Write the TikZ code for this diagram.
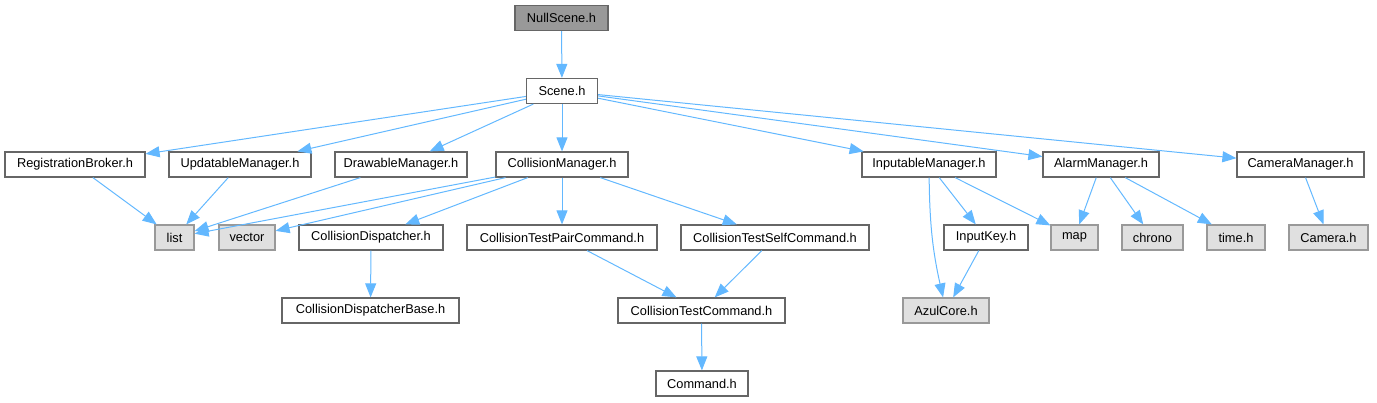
\documentclass[tikz,border=0pt]{standalone}
\usepackage{fontspec}
\setmainfont{Liberation Sans}
\usepackage{tikz}
\usetikzlibrary{arrows.meta, positioning}

\definecolor{edgeblue}{HTML}{63B8FF}
\definecolor{boxline}{HTML}{666666}
\definecolor{extline}{HTML}{999999}
\definecolor{extfill}{HTML}{E0E0E0}

\begin{document}
\begin{tikzpicture}[x=1pt, y=-1pt,
        hdr/.style={draw=boxline, line width=1.2pt, fill=white, minimum height=25pt, inner sep=0pt,
                    font=\fontsize{12.8pt}{14pt}\selectfont},
        ext/.style={hdr, draw=extline, fill=extfill},
        top/.style={hdr, fill=extline},
        dep/.style={edgeblue, line width=1pt, -{Triangle[length=14pt, width=11pt]}}]
            \useasboundingbox (0,0) rectangle (1377,403);
            % rows of the include graph
            \node[top, minimum width=93pt] (null) at (561.5,18) {NullScene.h};
            \node[hdr, minimum width=71pt] (scene) at (562,91) {Scene.h};
            \node[hdr, minimum width=140pt] (reg) at (75,164.5) {RegistrationBroker.h};
            \node[hdr, minimum width=142pt] (upd) at (240,164.5) {UpdatableManager.h};
            \node[hdr, minimum width=132pt] (drw) at (401,164.5) {DrawableManager.h};
            \node[hdr, minimum width=132pt] (col) at (562,164.5) {CollisionManager.h};
            \node[hdr, minimum width=134pt] (inp) at (929,164.5) {InputableManager.h};
            \node[hdr, minimum width=116pt] (alarm) at (1101,164.5) {AlarmManager.h};
            \node[hdr, minimum width=127pt] (cam) at (1300.5,164.5) {CameraManager.h};
            \node[ext, minimum width=39pt] (list) at (174.5,237.5) {list};
            \node[ext, minimum width=56pt] (vector) at (247,237.5) {vector};
            \node[hdr, minimum width=144pt] (cdisp) at (371,237.5) {CollisionDispatcher.h};
            \node[hdr, minimum width=190pt] (pair) at (562,237.5) {CollisionTestPairCommand.h};
            \node[hdr, minimum width=188pt] (self) at (775,237.5) {CollisionTestSelfCommand.h};
            \node[hdr, minimum width=84pt] (ikey) at (986,237.5) {InputKey.h};
            \node[ext, minimum width=47pt] (map) at (1074.5,237.5) {map};
            \node[ext, minimum width=61pt] (chrono) at (1152.5,237.5) {chrono};
            \node[ext, minimum width=58pt] (time) at (1236,237.5) {time.h};
            \node[ext, minimum width=79pt] (camh) at (1328.5,237.5) {Camera.h};
            \node[hdr, minimum width=177pt] (cdbase) at (370.5,310.5) {CollisionDispatcherBase.h};
            \node[hdr, minimum width=167pt] (ctc) at (701.5,310.5) {CollisionTestCommand.h};
            \node[ext, minimum width=86pt] (azul) at (946,310.5) {AzulCore.h};
            \node[hdr, minimum width=92pt] (cmd) at (702,383.5) {Command.h};
            % includes
            \draw[dep] (null) -- (scene);
            \draw[dep] (scene) -- (reg);
            \draw[dep] (scene) -- (upd);
            \draw[dep] (scene) -- (drw);
            \draw[dep] (scene) -- (col);
            \draw[dep] (scene) -- (inp);
            \draw[dep] (scene) -- (alarm);
            \draw[dep] (scene) -- (cam);
            \draw[dep] (reg) -- (list);
            \draw[dep] (upd) -- (list);
            \draw[dep] (drw) -- (list);
            \draw[dep] (col) -- (list);
            \draw[dep] (col) -- (vector);
            \draw[dep] (col) -- (cdisp);
            \draw[dep] (col) -- (pair);
            \draw[dep] (col) -- (self);
            \draw[dep] (cdisp) -- (cdbase);
            \draw[dep] (pair) -- (ctc);
            \draw[dep] (self) -- (ctc);
            \draw[dep] (ctc) -- (cmd);
            \draw[dep] (inp) to[bend right=6] (azul);
            \draw[dep] (inp) -- (ikey);
            \draw[dep] (inp) -- (map);
            \draw[dep] (ikey) -- (azul);
            \draw[dep] (alarm) -- (map);
            \draw[dep] (alarm) -- (chrono);
            \draw[dep] (alarm) -- (time);
            \draw[dep] (cam) -- (camh);
        \end{tikzpicture}
\end{document}
